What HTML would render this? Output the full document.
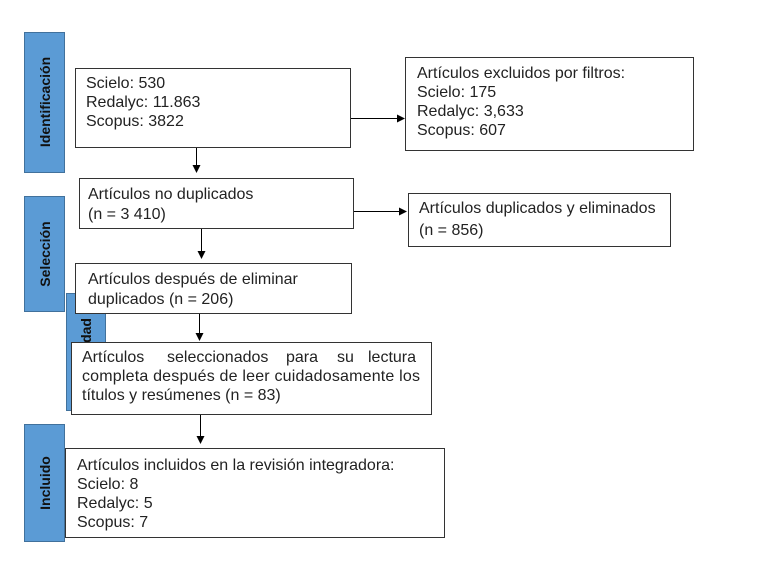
<!DOCTYPE html>
<html><head><meta charset="utf-8"><style>
html,body{margin:0;padding:0;background:#fff;}
svg{display:block;}
.t{font-family:"Liberation Sans",Arial,sans-serif;font-size:16px;fill:#222;}
.b{font-family:"Liberation Sans",Arial,sans-serif;font-size:14px;font-weight:bold;fill:#111;}
</style></head><body>
<svg width="783" height="568" viewBox="0 0 783 568" xmlns="http://www.w3.org/2000/svg">
<defs><marker id="a" markerWidth="8" markerHeight="8" refX="7" refY="4" orient="auto" markerUnits="userSpaceOnUse"><path d="M0,0 L8,4 L0,8 z" fill="#000"/></marker></defs>
<g stroke="#41719c" stroke-width="1" fill="#5b9bd5">
<rect x="24.5" y="32.5" width="40" height="140"/>
<rect x="24.5" y="196.5" width="40" height="115"/>
<rect x="66.5" y="293.5" width="39" height="117"/>
<rect x="24.5" y="424.5" width="40" height="117"/>
</g>
<text class="b" transform="translate(50,102) rotate(-90)" text-anchor="middle">Identificación</text>
<text class="b" transform="translate(50,254) rotate(-90)" text-anchor="middle">Selección</text>
<text class="b" transform="translate(91,318) rotate(-90)" text-anchor="end">Elegibilidad</text>
<text class="b" transform="translate(50,483) rotate(-90)" text-anchor="middle">Incluido</text>
<g fill="#fff" stroke="#333" stroke-width="1">
<rect x="75.5" y="68.5" width="275" height="79"/>
<rect x="79.5" y="178.5" width="274" height="50"/>
<rect x="75.5" y="263.5" width="276" height="50"/>
<rect x="71.5" y="342.5" width="360" height="72"/>
<rect x="65.5" y="448.5" width="379" height="89"/>
<rect x="405.5" y="57.5" width="288" height="93"/>
<rect x="408.5" y="193.5" width="262" height="53"/>
</g>
<g stroke="#000" stroke-width="1">
<line x1="196.5" y1="148" x2="196.5" y2="172" marker-end="url(#a)"/>
<line x1="201.5" y1="229" x2="201.5" y2="258" marker-end="url(#a)"/>
<line x1="199.5" y1="314" x2="199.5" y2="340" marker-end="url(#a)"/>
<line x1="200.5" y1="415" x2="200.5" y2="443" marker-end="url(#a)"/>
<line x1="351" y1="118.5" x2="404" y2="118.5" marker-end="url(#a)"/>
<line x1="354" y1="211.5" x2="406" y2="211.5" marker-end="url(#a)"/>
</g>
<text class="t" x="86" y="88">Scielo: 530</text>
<text class="t" x="86" y="107">Redalyc: 11.863</text>
<text class="t" x="86" y="126">Scopus: 3822</text>
<text class="t" x="88" y="199">Artículos no duplicados</text>
<text class="t" x="88" y="219">(n = 3 410)</text>
<text class="t" x="88" y="284">Artículos después de eliminar</text>
<text class="t" x="88" y="304">duplicados (n = 206)</text>
<text class="t" x="82" y="362">Artículos</text>
<text class="t" x="167" y="362">seleccionados</text>
<text class="t" x="286" y="362">para</text>
<text class="t" x="337" y="362">su</text>
<text class="t" x="368" y="362">lectura</text>
<text class="t" x="82" y="381" textLength="338" lengthAdjust="spacing">completa después de leer cuidadosamente los</text>
<text class="t" x="82" y="400">títulos y resúmenes (n = 83)</text>
<text class="t" x="77" y="470">Artículos incluidos en la revisión integradora:</text>
<text class="t" x="77" y="489">Scielo: 8</text>
<text class="t" x="77" y="508">Redalyc: 5</text>
<text class="t" x="77" y="527">Scopus: 7</text>
<text class="t" x="417" y="78">Artículos excluidos por filtros:</text>
<text class="t" x="417" y="97">Scielo: 175</text>
<text class="t" x="417" y="116">Redalyc: 3,633</text>
<text class="t" x="417" y="135">Scopus: 607</text>
<text class="t" x="419" y="213">Artículos duplicados y eliminados</text>
<text class="t" x="419" y="235">(n = 856)</text>
</svg>
</body></html>
